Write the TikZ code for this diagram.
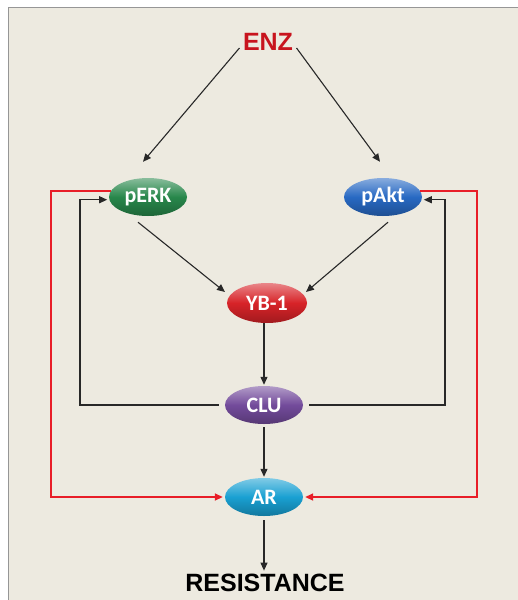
\documentclass[tikz,border=0pt]{standalone}
\usepackage{fontspec}
\setmainfont{Liberation Sans}
\newfontfamily\nodefont{Carlito}
\usetikzlibrary{arrows.meta,shapes.geometric}
\definecolor{bgbeige}{RGB}{237,234,224}
\definecolor{framegray}{RGB}{150,150,150}
\definecolor{enzred}{RGB}{200,20,30}
\definecolor{fbred}{RGB}{232,30,40}
\definecolor{lineblk}{RGB}{40,40,40}
\definecolor{cgreen}{RGB}{40,135,75}
\definecolor{cblue}{RGB}{40,105,195}
\definecolor{cred}{RGB}{215,35,40}
\definecolor{cpurple}{RGB}{115,75,155}
\definecolor{ccyan}{RGB}{25,160,210}
\tikzset{
  molnode/.style={ellipse, inner sep=0pt, minimum width=78pt, minimum height=38pt,
    text=white, font=\nodefont\bfseries\fontsize{22}{24}\selectfont,
    top color=#1!55!white, bottom color=#1!75!black, middle color=#1},
  arr/.style={draw=lineblk, line width=1.1pt, -{Triangle[length=8pt,width=7pt]}},
  redarr/.style={draw=fbred, line width=1.6pt, -{Triangle[length=8pt,width=7pt]}},
  bigtext/.style={font=\bfseries\fontsize{25}{28}\selectfont}
}
\begin{document}
\begin{tikzpicture}[x=1pt,y=-1pt]
\useasboundingbox (0,0) rectangle (518,600);
\fill[white] (0,0) rectangle (518,600);
\fill[bgbeige] (8,7) rectangle (518,600);
\draw[framegray, line width=1.5pt] (8.5,600) -- (8.5,7.5) -- (518,7.5);

\node[bigtext, text=enzred] (enz) at (268,42) {ENZ};
\node[molnode=cgreen] (perk) at (148,197) {pERK};
\node[molnode=cblue] (pakt) at (383,197) {pAkt};
\node[molnode=cred, minimum width=80pt, minimum height=40pt] (yb) at (267,303) {YB-1};
\node[molnode=cpurple] (clu) at (264,405) {CLU};
\node[molnode=ccyan] (ar) at (264,497) {AR};
\node[bigtext, text=black] (res) at (265,583) {RESISTANCE};

\coordinate (rl) at (51,497);
\coordinate (rr) at (477,497);
\coordinate (bl) at (80,405);
\coordinate (br) at (445,405);

% ENZ arrows
\draw[arr] ([yshift=-6pt]enz.west) -- ([xshift=-5pt,yshift=16pt]perk.north);
\draw[arr] ([yshift=-6pt]enz.east) -- ([xshift=-3pt,yshift=16pt]pakt.north);

% to YB-1
\draw[arr] ([xshift=-10pt,yshift=-6pt]perk.south) -- ([xshift=-42pt,yshift=11pt]yb.center);
\draw[arr] ([xshift=5pt,yshift=-6pt]pakt.south) -- ([xshift=39pt,yshift=11pt]yb.center);

% vertical chain
\draw[arr, shorten >=1pt] (clu.north |- yb.south) -- (clu.north);
\draw[arr, shorten <=3pt, shorten >=1pt] (clu.south) -- (ar.north);
\draw[arr, shorten <=4pt] (ar.south) -- (ar.south |- res.north);

% black feedback loops
\draw[arr, shorten <=6pt, shorten >=2pt] (clu.west) -| (bl) |- (perk.184);
\draw[arr, shorten <=6pt, shorten >=2pt] (clu.east) -| (br) |- (pakt.-4);

% red loops
\draw[redarr, shorten >=2pt] (perk.171) -| (rl) -- (ar.west);
\draw[redarr, shorten >=2pt] (pakt.9) -| (rr) -- (ar.east);
\end{tikzpicture}
\end{document}
